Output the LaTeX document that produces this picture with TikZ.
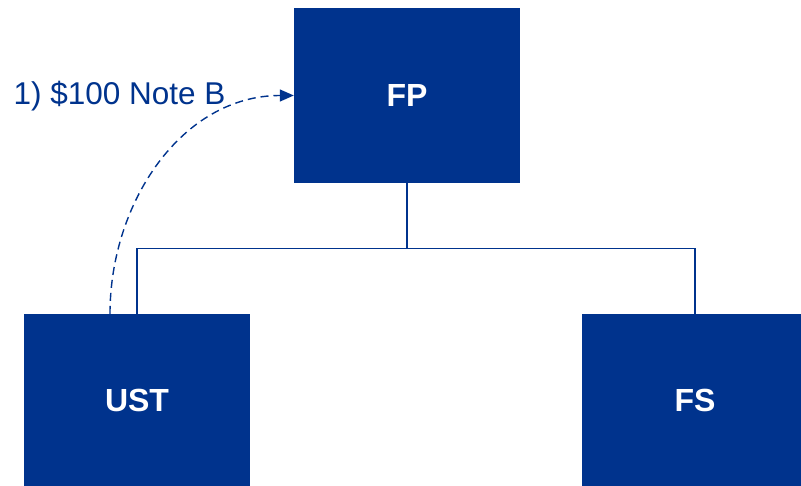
\documentclass[tikz,border=0pt]{standalone}
\usepackage{fontspec}
\setmainfont{Liberation Sans}
\usetikzlibrary{arrows.meta}
\definecolor{navy}{RGB}{0,51,141}
\begin{document}
\begin{tikzpicture}[x=1pt,y=-1pt,
  entity/.style={fill=navy, text=white, minimum width=226pt, font=\fontsize{32}{36}\selectfont\bfseries},
  link/.style={draw=navy, line width=1.3pt},
  transfer/.style={draw=navy, line width=1.4pt, dash pattern=on 8pt off 5pt, -{Triangle[length=14pt,width=12pt]}}]
  \useasboundingbox (0,0) rectangle (801,486);
  \node[entity, minimum height=175pt] (fp) at (407,95.5) {FP};
  \node[entity, minimum height=172pt] (ust) at (137,400) {UST};
  \node[entity, minimum height=172pt] (fs) at (695,400) {FS};
  % ownership lines
  \draw[link] (fp.south) -- ++(0,65) coordinate (bus);
  \draw[link] (bus) -| (ust.north);
  \draw[link] (bus) -| (fs.north);
  % note transfer
  \draw[transfer] ([xshift=-27pt]ust.north) to[out=90, in=180] (fp.west);
  \node[text=navy, anchor=west, font=\fontsize{31.5}{35}\selectfont] (note) at (10,96) {1) \$100 Note B};
\end{tikzpicture}
\end{document}
